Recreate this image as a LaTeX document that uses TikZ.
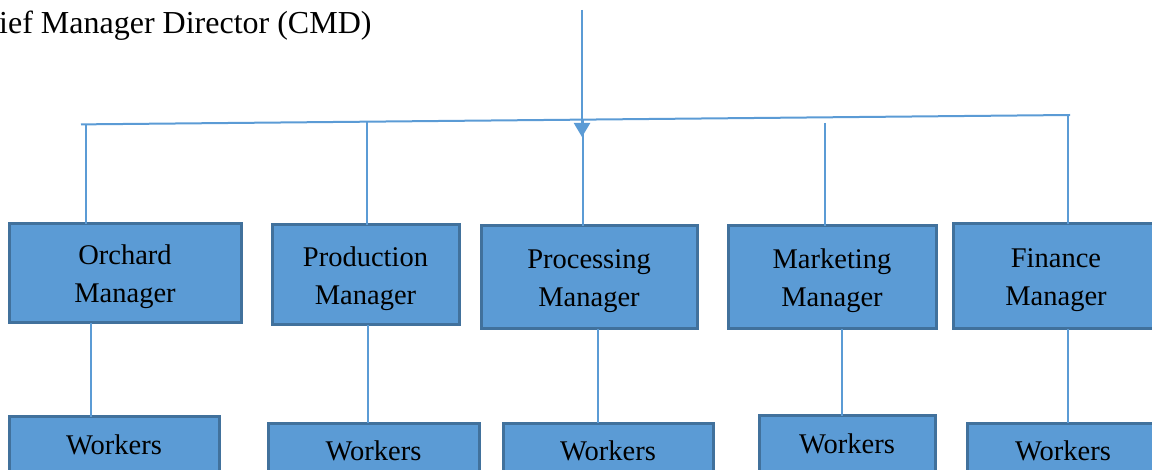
\documentclass[tikz,border=0pt]{standalone}
\usepackage{fontspec}
\setmainfont{Liberation Serif}
\usetikzlibrary{arrows.meta}
\definecolor{boxfill}{HTML}{5B9BD5}
\definecolor{boxline}{HTML}{41719C}
\definecolor{conn}{HTML}{5B9BD5}
\begin{document}
\begin{tikzpicture}[x=1pt,y=-1pt,
  mgr/.style={draw=boxline, fill=boxfill, line width=3pt, inner sep=0pt, outer sep=0pt,
    align=center, font=\fontsize{28.5}{38}\selectfont},
  link/.style={draw=conn, line width=2.2pt},
  bus/.style={draw=conn, line width=2pt}]
\useasboundingbox (0,0) rectangle (1152,470);

% title
\node[anchor=base west, inner sep=0pt, font=\fontsize{32}{38}\selectfont] (title) at (-1,34) {ief Manager Director (CMD)};

% manager boxes
\node[mgr, minimum width=232pt, minimum height=99pt]  (orch) at (125,273.5) {\strut Orchard\\Manager};
\node[mgr, minimum width=187pt, minimum height=100pt] (prod) at (365.5,275) {\strut Production\\Manager};
\node[mgr, minimum width=216pt, minimum height=103pt] (proc) at (589,277.5) {\strut Processing\\Manager};
\node[mgr, minimum width=208pt, minimum height=103pt] (mark) at (832,277.5) {\strut Marketing\\Manager};
\node[mgr, minimum width=206pt, minimum height=105pt] (fin)  at (1056,276.5) {\strut Finance\\Manager};

% worker boxes
\node[mgr, minimum width=210pt, minimum height=56pt] (w1) at (114,445) {Workers};
\node[mgr, minimum width=211pt, minimum height=56pt] (w2) at (373.5,451) {Workers};
\node[mgr, minimum width=210pt, minimum height=56pt] (w3) at (608,451) {Workers};
\node[mgr, minimum width=176pt, minimum height=56pt] (w4) at (847,444) {Workers};
\node[mgr, minimum width=192pt, minimum height=56pt] (w5) at (1063,451) {Workers};

% bus coordinates
\coordinate (b0) at (81,124.4);
\coordinate (b5) at (1070,115);
\coordinate (t1) at (86,124.3);
\coordinate (t2) at (367,121.7);
\coordinate (t3) at (583,119.6);
\coordinate (t4) at (825,123);
\coordinate (t5) at (1068,115);
\coordinate (top) at (582,10);
\coordinate (tip) at (582,137);

\draw[bus] (b0) -- (b5);
\draw[link, -{Triangle[width=16pt,length=14pt]}] (top) -- (tip);

\draw[link] (t1) -- ([xshift=-39pt]orch.north);
\draw[link] (t2) -- ([xshift=1.5pt]prod.north);
\draw[link] (t3) -- ([xshift=-6pt]proc.north);
\draw[link] (t4) -- ([xshift=-7pt]mark.north);
\draw[link] (t5) -- ([xshift=12pt]fin.north);

\draw[link] ([xshift=-34pt]orch.south) -- ([xshift=-23pt]w1.north);
\draw[link] ([xshift=2.5pt]prod.south) -- ([xshift=-5.5pt]w2.north);
\draw[link] ([xshift=9pt]proc.south) -- ([xshift=-10pt]w3.north);
\draw[link] ([xshift=10pt]mark.south) -- ([xshift=-5pt]w4.north);
\draw[link] ([xshift=12pt]fin.south) -- ([xshift=5pt]w5.north);
\end{tikzpicture}
\end{document}
